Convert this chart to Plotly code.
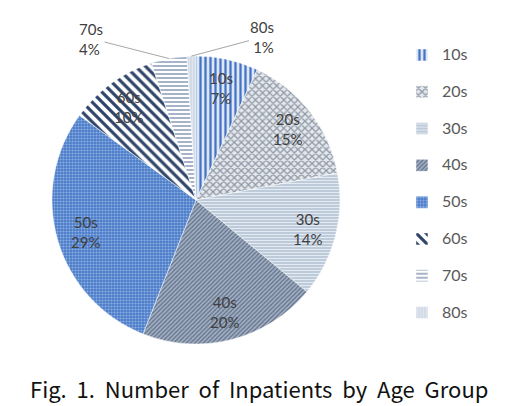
import math
import plotly.graph_objects as go

categories = ["10s", "20s", "30s", "40s", "50s", "60s", "70s", "80s"]
shares = [7, 15, 14, 20, 29, 10, 4, 1]
outside_labels = ["70s", "80s"]
title_words = ["Fig.", "1.", "Number", "of", "Inpatients", "by", "Age", "Group"]

bg_colors = ["#dce6f4", "#e4e8ed", "#bccad9", "#a3b0c3", "#4a7cc9", "#ffffff", "#ffffff", "#d3dbe6"]
fg_colors = ["#4472c4", "#8f99a6", "#e4eaf1", "#5f6f88", "#8fb0e3", "#2e4468", "#7f93b0", "#e8edf3"]
shapes = ["|", "x", "-", "/", ".", "\\", "-", "|"]
sizes = [5, 5, 3, 3, 3, 7, 4, 3]
solidity = [0.45, 0.45, 0.35, 0.4, 0.4, 0.45, 0.35, 0.2]

W, H = 513, 406
cx, cy, R = 188, 192, 144
dom_x = [(cx - R) / W, (cx + R) / W]
dom_y = [1 - (cy + R) / H, 1 - (cy - R) / H]

legend_labels = [f'<span style="font-size:16px;baseline-shift:5px">{c}</span>' for c in categories]

fig = go.Figure(go.Pie(
    labels=legend_labels,
    values=shares,
    sort=False,
    direction="clockwise",
    rotation=0,
    domain=dict(x=dom_x, y=dom_y),
    textinfo="none",
    marker=dict(
        colors=bg_colors,
        line=dict(color="#ffffff", width=0.5),
        pattern=dict(shape=shapes, fgcolor=fg_colors, bgcolor=bg_colors,
                     size=sizes, solidity=solidity, fillmode="replace"),
    ),
    showlegend=True,
    hoverinfo="percent",
))

# slice labels, placed from the data (angle of each slice's midpoint)
total = sum(shares)
cum = 0
offsets = {"70s": (-78, -20), "80s": (71, -19)}
label_font = dict(family="Lato", size=15, color="#404040")
for c, v in zip(categories, shares):
    mid = (cum + v / 2) / total
    cum += v
    th = 2 * math.pi * mid
    pct = f"{round(v / total * 100)}%"
    if c in outside_labels:
        px = cx + R * math.sin(th)
        py = cy - R * math.cos(th)
        ax, ay = offsets[c]
        fig.add_annotation(
            x=px / W, y=1 - py / H, xref="paper", yref="paper",
            text=f"{c}<br>{pct}",
            showarrow=True, arrowhead=0, arrowwidth=1, arrowcolor="#a6a6a6",
            ax=ax, ay=ay, align="left" if ax < 0 else "right",
            font=label_font,
        )
    else:
        rr = 0.8 * R
        px = cx + rr * math.sin(th)
        py = cy - rr * math.cos(th)
        fig.add_annotation(
            x=px / W, y=1 - py / H, xref="paper", yref="paper",
            xanchor="center", yanchor="middle",
            text=f"{c}<br>{pct}", showarrow=False, font=label_font,
        )

fig.add_annotation(
    x=0.49, y=(H - 380) / H, xref="paper", yref="paper", showarrow=False,
    xanchor="center", yanchor="middle",
    text="&nbsp; ".join(title_words),
    font=dict(family="Noto Sans CJK KR", size=22, color="#111111"),
)

fig.update_layout(
    width=W, height=H,
    margin=dict(l=0, r=0, t=0, b=0),
    paper_bgcolor="white",
    legend=dict(
        x=0.768, y=0.942, xanchor="left", yanchor="top",
        font=dict(family="Lato", size=26, color="#595959"),
        tracegroupgap=0,
        itemwidth=30,
    ),
)

fig.write_html("out.html")
